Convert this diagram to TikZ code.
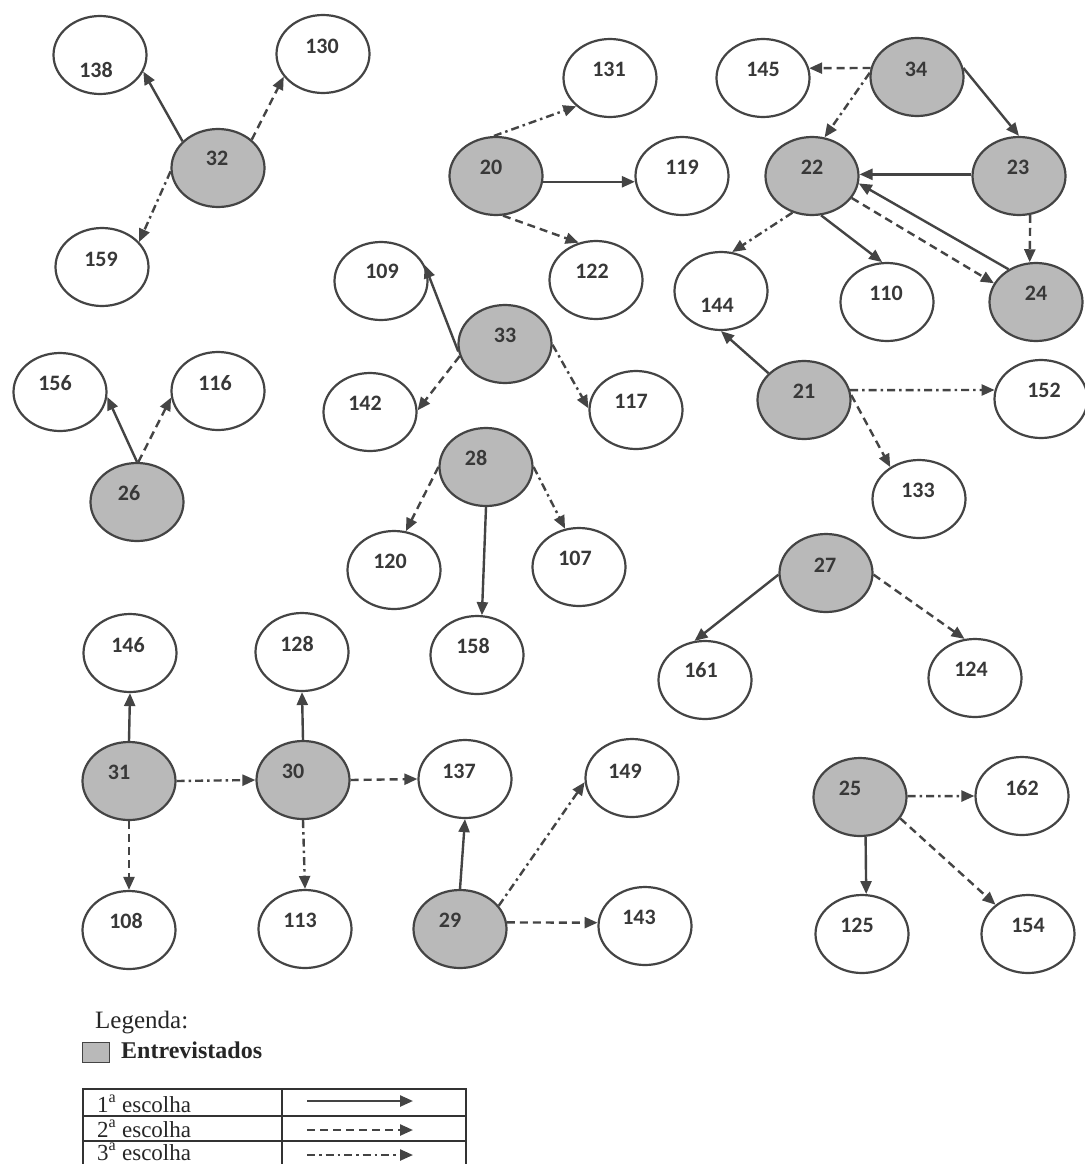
\documentclass[tikz,border=0pt]{standalone}
\usepackage{fontspec}
\setmainfont{Liberation Serif}
\newfontfamily\numfont{Carlito}
\usetikzlibrary{shapes.geometric,arrows.meta}
\definecolor{lc}{HTML}{444444}
\definecolor{nodefill}{HTML}{B9B9B9}
\definecolor{txtc}{HTML}{383838}
\newcommand\Nd[6]{\node[#1] (n#2) at (#3,#4) {}; \node[num] (t#2) at (#5,#6) {#2};}
\begin{document}
\begin{tikzpicture}[x=1pt,y=-1pt,
 base/.style={ellipse,draw=lc,line width=2.2pt,minimum width=93pt,minimum height=78pt,inner sep=0pt},
 pnode/.style={base,fill=white},
 inode/.style={base,fill=nodefill},
 num/.style={font=\numfont\bfseries\fontsize{22}{26}\selectfont,text=txtc,inner sep=0pt},
 arr/.style={-{Triangle[length=13pt,width=11pt]}},
 eS/.style={draw=lc,line width=2.4pt,arr},
 eD/.style={eS,dash pattern=on 8pt off 5pt},
 eDD/.style={eS,dash pattern=on 8pt off 4pt on 2.5pt off 4pt},
 leg/.style={font=\fontsize{23}{27}\selectfont,text=black!85,inner sep=0pt}]
\fill[white] (0,0) rectangle (1084,1164);
\useasboundingbox (0,0) rectangle (1084,1164);
% nodes
\Nd{pnode}{138}{100}{55}{96}{70}
\Nd{pnode}{130}{323}{54}{322}{46}
\Nd{inode}{32}{218}{168}{217}{158}
\Nd{pnode}{159}{102}{267}{101}{259}
\Nd{pnode}{131}{610}{78}{609}{69}
\Nd{pnode}{145}{763}{78}{763}{69}
\Nd{inode}{34}{917}{77}{916}{69}
\Nd{inode}{20}{496}{176}{491}{167}
\Nd{pnode}{119}{682}{176}{682}{167}
\Nd{inode}{22}{812}{176}{812}{167}
\Nd{inode}{23}{1019}{176}{1018}{167}
\Nd{pnode}{122}{596}{280}{592}{271}
\Nd{pnode}{144}{721}{291}{717}{305}
\Nd{pnode}{110}{887}{302}{886}{293}
\Nd{inode}{24}{1036}{302}{1036}{293}
\Nd{pnode}{109}{381}{281}{382}{271}
\Nd{inode}{33}{505}{344}{505}{335}
\Nd{pnode}{142}{370}{412}{365}{403}
\Nd{pnode}{117}{636}{410}{631}{401}
\Nd{pnode}{156}{60}{392}{55}{383}
\Nd{pnode}{116}{218}{391}{215}{383}
\Nd{inode}{26}{137}{502}{129}{493}
\Nd{inode}{28}{486}{467}{476}{458}
\Nd{pnode}{120}{394}{570}{390}{561}
\Nd{pnode}{107}{579}{567}{575}{558}
\Nd{pnode}{158}{477}{655}{473}{646}
\Nd{inode}{21}{804}{400}{804}{391}
\Nd{pnode}{152}{1041}{399}{1044}{390}
\Nd{pnode}{133}{919}{499}{918}{490}
\Nd{inode}{27}{826}{573}{825}{565}
\Nd{pnode}{161}{705}{680}{701}{670}
\Nd{pnode}{124}{975}{678}{971}{669}
\Nd{pnode}{146}{130}{653}{128}{645}
\Nd{pnode}{128}{302}{652}{297}{644}
\Nd{inode}{31}{129}{781}{119}{772}
\Nd{inode}{30}{303}{780}{293}{771}
\Nd{pnode}{137}{465}{779}{459}{771}
\Nd{pnode}{149}{632}{778}{625}{771}
\Nd{pnode}{108}{129}{930}{126}{921}
\Nd{pnode}{113}{305}{929}{300}{920}
\Nd{inode}{29}{460}{929}{450}{920}
\Nd{pnode}{143}{645}{926}{639}{917}
\Nd{inode}{25}{860}{797}{850}{788}
\Nd{pnode}{162}{1022}{796}{1022}{788}
\Nd{pnode}{125}{862}{934}{857}{925}
\Nd{pnode}{154}{1028}{934}{1028}{925}
% edges
\draw[eS]  (n32.143) -- (n138.339);
\draw[eD]  (n32.40)  -- (n130.210);
\draw[eDD] (n32.184) -- (n159.34);
\draw[eDD] (n20.93)  -- (n131.220);
\draw[eS]  (n20.353) -- (n119.187);
\draw[eD]  (n20.280) -- (n122.115);
\draw[eD]  (n34.169) -- (n145.12);
\draw[eDD] (n34.175) -- (n22.72);
\draw[eS]  (n34.11)  -- (n23.90);
\draw[eS]  (n23.178) -- (n22.2);
\draw[eD]  (n23.286) -- (n24.99);
\draw[eS]  (n24.130) -- (n22.351);
\draw[eD]  (n22.331) -- (n24.156);
\draw[eDD] (n22.242) -- (n144.74);
\draw[eS]  (n22.283) -- (n110.97);
\draw[eS]  (n21.143) -- (n144.270);
\draw[eDD] (n21.12)  -- (n152.169);
\draw[eD]  (n21.6)   -- (n133.132);
\draw[eS]  (n33.189) -- (n109.20);
\draw[eD]  (n33.195) -- (n142.2);
\draw[eDD] (n33.359) -- (n117.178);
\draw[eS]  (n26.90)  -- (n156.354);
\draw[eD]  (n26.88)  -- (n116.188);
\draw[eD]  (n28.180) -- (n120.73);
\draw[eS]  (n28.270) -- (n158.83);
\draw[eDD] (n28.0)   -- (n107.110);
\draw[eS]  (n27.182) -- (n161.105);
\draw[eD]  (n27.358) -- (n124.105);
\draw[eS]  (n31.90)  -- (n146.270);
\draw[eDD] (n31.0)   -- (n30.180);
\draw[eD]  (n31.270) -- (n108.90);
\draw[eS]  (n30.90)  -- (n128.270);
\draw[eD]  (n30.0)   -- (n137.180);
\draw[eDD] (n30.270) -- (n113.90);
\draw[eS]  (n29.90)  -- (n137.270);
\draw[eDD] (n29.31)  -- (n149.185);
\draw[eD]  (n29.8)   -- (n143.176);
\draw[eDD] (n25.1)   -- (n162.180);
\draw[eD]  (n25.332) -- (n154.138);
\draw[eS]  (n25.278) -- (n125.84);
% legend
\node[leg,font=\fontsize{25}{29}\selectfont,anchor=base west] (legtitle) at (95,1028) {Legenda:};
\node[draw=lc,line width=1.6pt,fill=nodefill,minimum width=27pt,minimum height=20pt,inner sep=0pt] (legbox) at (96,1052.5) {};
\node[leg,font=\fontsize{24}{28}\selectfont\bfseries,anchor=base west] (legint) at (121,1058) {Entrevistados};
\draw[line width=1.2pt,draw=black!80] (83,1170) -- (83,1089) -- (466,1089) -- (466,1170);
\draw[line width=1.2pt,draw=black!80] (83,1116) -- (466,1116);
\draw[line width=1.2pt,draw=black!80] (83,1141) -- (466,1141);
\draw[line width=1.2pt,draw=black!80] (282,1089) -- (282,1170);
\node[leg,anchor=base west] (row1) at (97,1112) {1\textsuperscript{a} escolha};
\node[leg,anchor=base west] (row2) at (97,1137) {2\textsuperscript{a} escolha};
\node[leg,anchor=base west] (row3) at (97,1160) {3\textsuperscript{a} escolha};
\coordinate (l1a) at (307,1101); \coordinate (l1b) at (413,1101);
\coordinate (l2a) at (307,1130); \coordinate (l2b) at (413,1130);
\coordinate (l3a) at (307,1155); \coordinate (l3b) at (413,1155);
\draw[eS]  (l1a) -- (l1b);
\draw[eD]  (l2a) -- (l2b);
\draw[eDD] (l3a) -- (l3b);
\end{tikzpicture}
\end{document}
